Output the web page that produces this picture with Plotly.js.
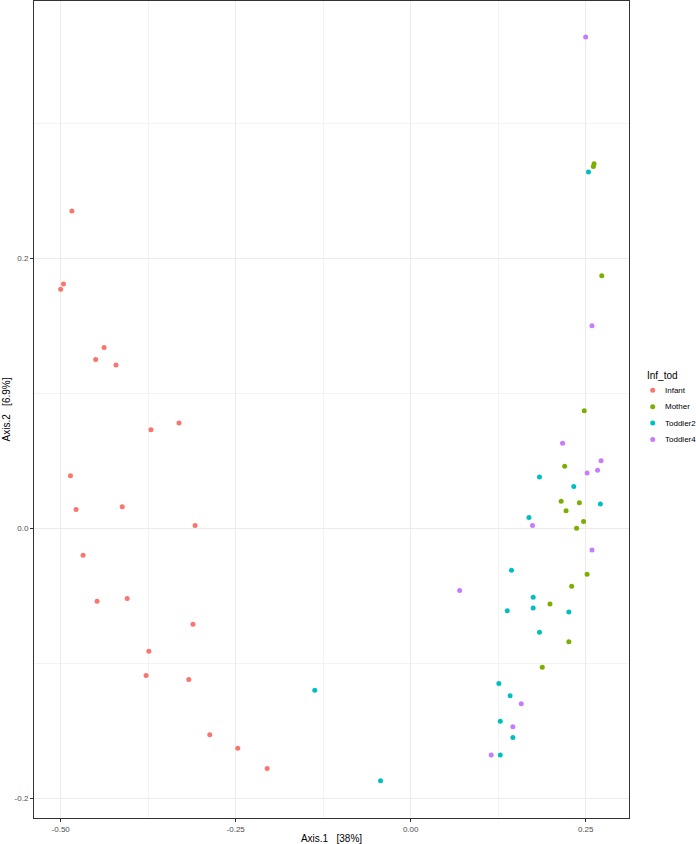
<!DOCTYPE html>
<html>
<head>
<meta charset="utf-8">
<script src="https://cdn.plot.ly/plotly-3.0.1.min.js"></script>
<style>html,body{margin:0;padding:0;background:#fff;}#chart{width:696px;height:844px;}</style>
</head>
<body>
<div id="chart"></div>
<script>
// Group names and colours (ggplot defaults)
const groups = ["Infant", "Mother", "Toddler2", "Toddler4"];
const colors = ["#F8766D", "#7CAE00", "#00BFC4", "#C77CFF"];
const legendTitle = "Inf_tod";

// Axis.1 / Axis.2 coordinates per group
const infantX = [-0.484, -0.496, -0.500, -0.438, -0.450, -0.421, -0.371, -0.331, -0.486, -0.478, -0.412, -0.308, -0.468, -0.448, -0.405, -0.311, -0.374, -0.378, -0.317, -0.287, -0.247, -0.205];
const infantY = [0.235, 0.181, 0.177, 0.134, 0.125, 0.121, 0.073, 0.078, 0.039, 0.014, 0.016, 0.002, -0.020, -0.054, -0.052, -0.071, -0.091, -0.109, -0.112, -0.153, -0.163, -0.178];

const motherX = [0.262, 0.261, 0.273, 0.248, 0.220, 0.215, 0.241, 0.222, 0.247, 0.237, 0.252, 0.230, 0.199, 0.226, 0.188];
const motherY = [0.270, 0.268, 0.187, 0.087, 0.046, 0.020, 0.019, 0.013, 0.005, 0.000, -0.034, -0.043, -0.056, -0.084, -0.103];

const toddler2X = [0.254, 0.184, 0.233, 0.271, 0.169, 0.144, 0.175, 0.175, 0.138, 0.226, 0.184, 0.126, 0.142, 0.128, 0.146, 0.128, -0.043, -0.137];
const toddler2Y = [0.264, 0.038, 0.031, 0.018, 0.008, -0.031, -0.051, -0.059, -0.061, -0.062, -0.077, -0.115, -0.124, -0.143, -0.155, -0.168, -0.187, -0.120];

const toddler4X = [0.250, 0.259, 0.217, 0.272, 0.267, 0.252, 0.174, 0.259, 0.070, 0.158, 0.146, 0.115];
const toddler4Y = [0.364, 0.150, 0.063, 0.050, 0.043, 0.041, 0.002, -0.016, -0.046, -0.130, -0.147, -0.168];

// Tick labels
const xTickVals = [-0.5, -0.25, 0, 0.25];
const xTickText = ["-0.50", "-0.25", "0.00", "0.25"];
const xMinorVals = [-0.375, -0.125, 0.125];
const yTickVals = [-0.2, 0, 0.2];
const yTickText = ["-0.2", "0.0", "0.2"];
const yMinorVals = [-0.1, 0.1, 0.3];

const xs = [infantX, motherX, toddler2X, toddler4X];
const ys = [infantY, motherY, toddler2Y, toddler4Y];

const traces = groups.map((g, i) => ({
  type: "scatter",
  mode: "markers",
  name: g,
  x: xs[i],
  y: ys[i],
  marker: { color: colors[i], size: 5, line: { width: 0 } },
  hoverinfo: "x+y+name"
}));

const font = "Liberation Sans, Arial, Helvetica, sans-serif";
const W = 696, H = 844;
const M = { l: 34, r: 67, t: 1, b: 26 };
const plotW = W - M.l - M.r, plotH = H - M.t - M.b;
const px2paperX = p => (p - M.l) / plotW;
const px2paperY = p => (H - M.b - p) / plotH;

// Legend (ggplot style, right side, vertically centred)
const legTitleX = 645, legTitleY = 375, legFirstY = 390.3, legStep = 16.4, legKeyX = 652.7, legTextX = 663;
const annotations = [{
  xref: "paper", yref: "paper", x: px2paperX(legTitleX), y: px2paperY(legTitleY),
  xanchor: "left", yanchor: "middle", showarrow: false, text: legendTitle,
  font: { family: font, size: 10, color: "#000" }
}];
const shapes = [];
groups.forEach((g, i) => {
  const cy = legFirstY + i * legStep;
  annotations.push({
    xref: "paper", yref: "paper", x: px2paperX(legTextX), y: px2paperY(cy),
    xanchor: "left", yanchor: "middle", showarrow: false, text: g,
    font: { family: font, size: 8, color: "#000" }
  });
  shapes.push({
    type: "circle", xref: "paper", yref: "paper",
    x0: px2paperX(legKeyX - 2.5), x1: px2paperX(legKeyX + 2.5),
    y0: px2paperY(cy + 2.5), y1: px2paperY(cy - 2.5),
    fillcolor: colors[i], line: { width: 0 }
  });
});

const axisCommon = {
  showline: true,
  mirror: true,
  linecolor: "#333333",
  linewidth: 1,
  ticks: "outside",
  ticklen: 3,
  tickwidth: 1,
  tickcolor: "#333333",
  zeroline: false,
  showgrid: true,
  gridcolor: "#EBEBEB",
  gridwidth: 1,
  tickfont: { family: font, size: 8, color: "#4D4D4D" },
  tickmode: "array"
};

const layout = {
  width: W,
  height: H,
  margin: Object.assign({ autoexpand: false }, M),
  paper_bgcolor: "#ffffff",
  plot_bgcolor: "#ffffff",
  font: { family: font, color: "#000000" },
  showlegend: false,
  annotations: annotations,
  shapes: shapes,
  xaxis: Object.assign({}, axisCommon, {
    range: [-0.5381, 0.3119],
    tickvals: xTickVals,
    ticktext: xTickText,
    minor: { tickmode: "array", tickvals: xMinorVals, showgrid: true, gridcolor: "#F3F3F3", gridwidth: 1, ticks: "" },
    title: { text: "Axis.1\u00a0\u00a0\u00a0[38%]", font: { family: font, size: 10, color: "#000" }, standoff: 2 }
  }),
  yaxis: Object.assign({}, axisCommon, {
    range: [-0.2146, 0.3906],
    tickvals: yTickVals,
    ticktext: yTickText,
    minor: { tickmode: "array", tickvals: yMinorVals, showgrid: true, gridcolor: "#F3F3F3", gridwidth: 1, ticks: "" },
    title: { text: "Axis.2\u00a0\u00a0\u00a0[6.9%]", font: { family: font, size: 10, color: "#000" }, standoff: 2 }
  })
};

Plotly.newPlot("chart", traces, layout, { displayModeBar: false, staticPlot: true });
</script>
</body>
</html>
